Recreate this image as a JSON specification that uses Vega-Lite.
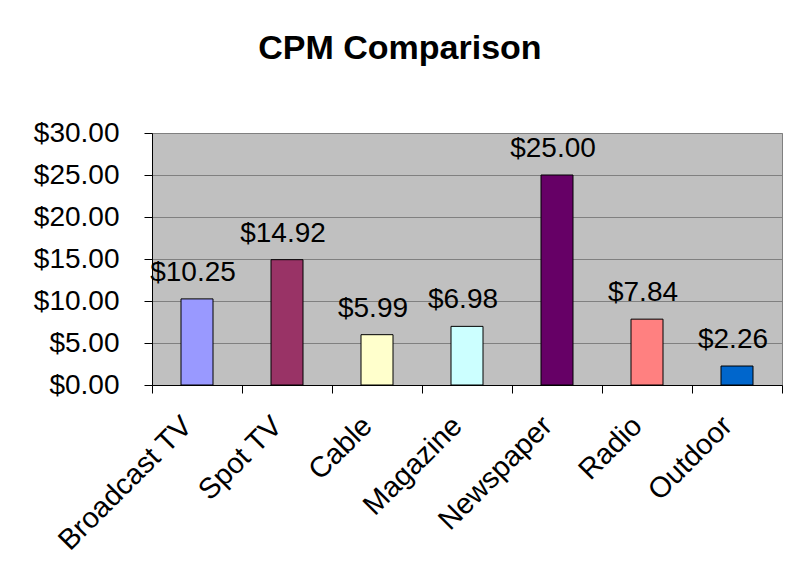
{
  "$schema": "https://vega.github.io/schema/vega-lite/v6.json",
  "width": 630,
  "height": 252,
  "autosize": {"type": "none"},
  "padding": {"left": 152, "top": 133, "right": 6, "bottom": 193},
  "background": "white",
  "title": {
    "text": "CPM Comparison",
    "font": "Liberation Sans",
    "fontSize": 34,
    "fontWeight": "bold",
    "color": "black",
    "anchor": "middle",
    "frame": "bounds",
    "offset": 53,
    "dx": -8
  },
  "data": {
    "values": [
      {"media": "Broadcast TV", "cpm": 10.25},
      {"media": "Spot TV", "cpm": 14.92},
      {"media": "Cable", "cpm": 5.99},
      {"media": "Magazine", "cpm": 6.98},
      {"media": "Newspaper", "cpm": 25.00},
      {"media": "Radio", "cpm": 7.84},
      {"media": "Outdoor", "cpm": 2.26}
    ]
  },
  "encoding": {
    "x": {
      "field": "media",
      "type": "nominal",
      "sort": null,
      "scale": {"paddingInner": 0, "paddingOuter": 0},
      "axis": {
        "title": null,
        "labelAngle": -45,
        "labelFont": "Liberation Sans",
        "labelFontSize": 29,
        "labelColor": "black",
        "labelPadding": 18,
        "labelOffset": -20,
        "domainColor": "black",
        "tickColor": "black",
        "tickSize": 8,
        "tickBand": "extent",
        "grid": false
      }
    },
    "y": {
      "field": "cpm",
      "type": "quantitative",
      "scale": {"domain": [0, 30], "nice": false},
      "axis": {
        "title": null,
        "values": [0, 5, 10, 15, 20, 25, 30],
        "format": "$.2f",
        "labelFont": "Liberation Sans",
        "labelFontSize": 28,
        "labelColor": "black",
        "labelPadding": 25,
        "domainColor": "black",
        "tickColor": "black",
        "tickSize": 8,
        "grid": true,
        "gridColor": "#808080",
        "gridOpacity": 1
      }
    }
  },
  "layer": [
    {
      "mark": {"type": "bar", "size": 32, "stroke": "black", "strokeWidth": 1},
      "encoding": {
        "color": {
          "field": "media",
          "type": "nominal",
          "sort": null,
          "legend": null,
          "scale": {
            "domain": ["Broadcast TV", "Spot TV", "Cable", "Magazine", "Newspaper", "Radio", "Outdoor"],
            "range": ["#9999FF", "#993366", "#FFFFCC", "#CCFFFF", "#660066", "#FF8080", "#0066CC"]
          }
        }
      }
    },
    {
      "mark": {"type": "text", "font": "Liberation Sans", "fontSize": 28, "color": "black", "baseline": "alphabetic", "dy": -18, "dx": -4},
      "encoding": {
        "text": {"field": "cpm", "type": "quantitative", "format": "$.2f"}
      }
    }
  ],
  "config": {
    "view": {"fill": "#C0C0C0", "stroke": "#808080"}
  }
}
